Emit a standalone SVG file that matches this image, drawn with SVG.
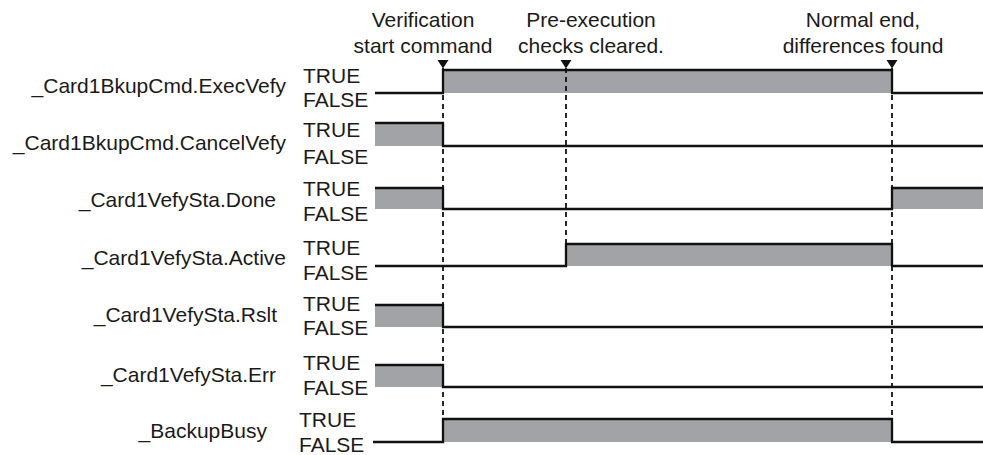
<svg xmlns="http://www.w3.org/2000/svg" width="983" height="455" viewBox="0 0 983 455">
<style>
text{font-family:"Liberation Sans",Arial,Helvetica,sans-serif;font-size:21px;fill:#1a1a1a}
.name{text-anchor:end}
.hdr{text-anchor:middle}
.fill{fill:#a2a3a6;stroke:none}
.wave{fill:none;stroke:#111;stroke-width:2.3;stroke-linejoin:miter;stroke-linecap:butt}
.dash{fill:none;stroke:#111;stroke-width:1.8;stroke-dasharray:5 4}
</style>
<defs>
<path id="tri" d="M-5.5,0 L5.5,0 L0,8.5 Z" fill="#111"/>
</defs>
<rect width="983" height="455" fill="#fff"/>

<g id="headers">
<text class="hdr" x="423" y="27">Verification</text>
<text class="hdr" x="423" y="53">start command</text>
<text class="hdr" x="591" y="27">Pre-execution</text>
<text class="hdr" x="591" y="53">checks cleared.</text>
<text class="hdr" x="863" y="27">Normal end,</text>
<text class="hdr" x="863" y="53">differences found</text>
</g>

<g id="sig-execvefy">
<text class="name" x="286" y="93">_Card1BkupCmd.ExecVefy</text>
<text x="303" y="83">TRUE</text>
<text x="303" y="107">FALSE</text>
<rect class="fill" x="443" y="70" width="449" height="23"/>
<path class="wave" d="M375,93 H443 V70 H892 V93 H983"/>
</g>

<g id="sig-cancelvefy">
<text class="name" x="286" y="150">_Card1BkupCmd.CancelVefy</text>
<text x="303" y="137">TRUE</text>
<text x="303" y="164">FALSE</text>
<rect class="fill" x="375" y="123" width="68" height="23"/>
<path class="wave" d="M375,123 H443 V146 H983"/>
</g>

<g id="sig-done">
<text class="name" x="276" y="207">_Card1VefySta.Done</text>
<text x="303" y="196">TRUE</text>
<text x="303" y="221">FALSE</text>
<rect class="fill" x="375" y="188" width="68" height="21"/>
<rect class="fill" x="892" y="188" width="91" height="21"/>
<path class="wave" d="M375,188 H443 V209 H892 V188 H983"/>
</g>

<g id="sig-active">
<text class="name" x="286" y="265">_Card1VefySta.Active</text>
<text x="303" y="255">TRUE</text>
<text x="303" y="280">FALSE</text>
<rect class="fill" x="566" y="244" width="326" height="22"/>
<path class="wave" d="M375,266 H566 V244 H892 V266 H983"/>
</g>

<g id="sig-rslt">
<text class="name" x="277" y="322">_Card1VefySta.Rslt</text>
<text x="303" y="311">TRUE</text>
<text x="303" y="335">FALSE</text>
<rect class="fill" x="375" y="305" width="68" height="22"/>
<path class="wave" d="M375,305 H443 V327 H983"/>
</g>

<g id="sig-err">
<text class="name" x="276" y="382">_Card1VefySta.Err</text>
<text x="303" y="370">TRUE</text>
<text x="303" y="395">FALSE</text>
<rect class="fill" x="375" y="365" width="68" height="22"/>
<path class="wave" d="M375,365 H443 V387 H983"/>
</g>

<g id="sig-backupbusy">
<text class="name" x="267" y="438">_BackupBusy</text>
<text x="299" y="427">TRUE</text>
<text x="299" y="452">FALSE</text>
<rect class="fill" x="443" y="419" width="449" height="23"/>
<path class="wave" d="M373,442 H443 V419 H892 V442 H983"/>
</g>

<g id="connectors">
<line class="dash" x1="443" y1="68" x2="443" y2="419"/>
<line class="dash" x1="566" y1="68" x2="566" y2="244"/>
<line class="dash" x1="892" y1="68" x2="892" y2="419"/>
<use href="#tri" x="443" y="60"/>
<use href="#tri" x="566" y="60"/>
<use href="#tri" x="892" y="60"/>
</g>
</svg>
